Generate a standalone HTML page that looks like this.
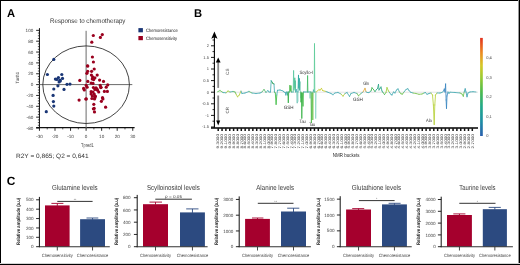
<!DOCTYPE html>
<html><head><meta charset="utf-8"><style>
html,body{margin:0;padding:0;background:#fff;}
body{width:520px;height:265px;overflow:hidden;}
svg{display:block;font-family:"Liberation Sans",sans-serif;will-change:transform;text-rendering:geometricPrecision;}
</style></head><body>
<svg width="520" height="265" viewBox="0 0 520 265">
<rect x="0" y="0" width="520" height="265" fill="#fff"/>
<rect x="0.00" y="0.00" width="520.00" height="1.00" fill="#000"/>
<rect x="0.00" y="0.00" width="1.00" height="265.00" fill="#000"/>
<rect x="519.00" y="0.00" width="1.00" height="265.00" fill="#000"/>
<rect x="518.00" y="0.00" width="1.00" height="265.00" fill="#999"/>
<rect x="0.00" y="264.00" width="520.00" height="1.00" fill="#000"/>
<rect x="0.00" y="263.00" width="520.00" height="1.00" fill="#d4d4d4"/>
<text x="7.00" y="16.80" font-size="11.2" font-weight="bold" fill="#000">A</text>
<text x="194.00" y="16.80" font-size="11.2" font-weight="bold" fill="#000">B</text>
<text x="6.80" y="184.90" font-size="11.9" font-weight="bold" fill="#000">C</text>
<text x="50.00" y="23.00" font-size="6.7" textLength="75.40" lengthAdjust="spacingAndGlyphs" fill="#333">Response to chemotherapy</text>
<rect x="138.40" y="28.10" width="4.50" height="4.20" fill="#1a3676"/>
<rect x="138.40" y="36.00" width="4.50" height="4.20" fill="#9a001e"/>
<text x="146.10" y="31.90" font-size="4.8" textLength="31.70" lengthAdjust="spacingAndGlyphs" fill="#222">Chemoresistance</text>
<text x="146.10" y="39.90" font-size="4.8" textLength="30.90" lengthAdjust="spacingAndGlyphs" fill="#222">Chemosensitivity</text>
<line x1="39.45" y1="28.15" x2="39.45" y2="128.00" stroke="#111" stroke-width="1"/>
<line x1="36.15" y1="128.00" x2="39.45" y2="128.00" stroke="#111" stroke-width="0.9"/>
<text x="33.25" y="129.65" font-size="4.6" text-anchor="end" fill="#444">-80</text>
<line x1="37.85" y1="125.29" x2="39.45" y2="125.29" stroke="#111" stroke-width="0.7"/>
<line x1="37.85" y1="122.57" x2="39.45" y2="122.57" stroke="#111" stroke-width="0.7"/>
<line x1="37.85" y1="119.86" x2="39.45" y2="119.86" stroke="#111" stroke-width="0.7"/>
<line x1="36.15" y1="117.15" x2="39.45" y2="117.15" stroke="#111" stroke-width="0.9"/>
<text x="33.25" y="118.80" font-size="4.6" text-anchor="end" fill="#444">-60</text>
<line x1="37.85" y1="114.44" x2="39.45" y2="114.44" stroke="#111" stroke-width="0.7"/>
<line x1="37.85" y1="111.72" x2="39.45" y2="111.72" stroke="#111" stroke-width="0.7"/>
<line x1="37.85" y1="109.01" x2="39.45" y2="109.01" stroke="#111" stroke-width="0.7"/>
<line x1="36.15" y1="106.30" x2="39.45" y2="106.30" stroke="#111" stroke-width="0.9"/>
<text x="33.25" y="107.95" font-size="4.6" text-anchor="end" fill="#444">-40</text>
<line x1="37.85" y1="103.59" x2="39.45" y2="103.59" stroke="#111" stroke-width="0.7"/>
<line x1="37.85" y1="100.88" x2="39.45" y2="100.88" stroke="#111" stroke-width="0.7"/>
<line x1="37.85" y1="98.16" x2="39.45" y2="98.16" stroke="#111" stroke-width="0.7"/>
<line x1="36.15" y1="95.45" x2="39.45" y2="95.45" stroke="#111" stroke-width="0.9"/>
<text x="33.25" y="97.10" font-size="4.6" text-anchor="end" fill="#444">-20</text>
<line x1="37.85" y1="92.74" x2="39.45" y2="92.74" stroke="#111" stroke-width="0.7"/>
<line x1="37.85" y1="90.02" x2="39.45" y2="90.02" stroke="#111" stroke-width="0.7"/>
<line x1="37.85" y1="87.31" x2="39.45" y2="87.31" stroke="#111" stroke-width="0.7"/>
<line x1="36.15" y1="84.60" x2="39.45" y2="84.60" stroke="#111" stroke-width="0.9"/>
<text x="33.25" y="86.25" font-size="4.6" text-anchor="end" fill="#444">0</text>
<line x1="37.85" y1="81.89" x2="39.45" y2="81.89" stroke="#111" stroke-width="0.7"/>
<line x1="37.85" y1="79.17" x2="39.45" y2="79.17" stroke="#111" stroke-width="0.7"/>
<line x1="37.85" y1="76.46" x2="39.45" y2="76.46" stroke="#111" stroke-width="0.7"/>
<line x1="36.15" y1="73.75" x2="39.45" y2="73.75" stroke="#111" stroke-width="0.9"/>
<text x="33.25" y="75.40" font-size="4.6" text-anchor="end" fill="#444">20</text>
<line x1="37.85" y1="71.04" x2="39.45" y2="71.04" stroke="#111" stroke-width="0.7"/>
<line x1="37.85" y1="68.32" x2="39.45" y2="68.32" stroke="#111" stroke-width="0.7"/>
<line x1="37.85" y1="65.61" x2="39.45" y2="65.61" stroke="#111" stroke-width="0.7"/>
<line x1="36.15" y1="62.90" x2="39.45" y2="62.90" stroke="#111" stroke-width="0.9"/>
<text x="33.25" y="64.55" font-size="4.6" text-anchor="end" fill="#444">40</text>
<line x1="37.85" y1="60.19" x2="39.45" y2="60.19" stroke="#111" stroke-width="0.7"/>
<line x1="37.85" y1="57.47" x2="39.45" y2="57.47" stroke="#111" stroke-width="0.7"/>
<line x1="37.85" y1="54.76" x2="39.45" y2="54.76" stroke="#111" stroke-width="0.7"/>
<line x1="36.15" y1="52.05" x2="39.45" y2="52.05" stroke="#111" stroke-width="0.9"/>
<text x="33.25" y="53.70" font-size="4.6" text-anchor="end" fill="#444">60</text>
<line x1="37.85" y1="49.34" x2="39.45" y2="49.34" stroke="#111" stroke-width="0.7"/>
<line x1="37.85" y1="46.62" x2="39.45" y2="46.62" stroke="#111" stroke-width="0.7"/>
<line x1="37.85" y1="43.91" x2="39.45" y2="43.91" stroke="#111" stroke-width="0.7"/>
<line x1="36.15" y1="41.20" x2="39.45" y2="41.20" stroke="#111" stroke-width="0.9"/>
<text x="33.25" y="42.85" font-size="4.6" text-anchor="end" fill="#444">80</text>
<line x1="37.85" y1="38.49" x2="39.45" y2="38.49" stroke="#111" stroke-width="0.7"/>
<line x1="37.85" y1="35.77" x2="39.45" y2="35.77" stroke="#111" stroke-width="0.7"/>
<line x1="37.85" y1="33.06" x2="39.45" y2="33.06" stroke="#111" stroke-width="0.7"/>
<line x1="36.15" y1="30.35" x2="39.45" y2="30.35" stroke="#111" stroke-width="0.9"/>
<text x="33.25" y="32.00" font-size="4.6" text-anchor="end" fill="#444">100</text>
<line x1="36.15" y1="127.60" x2="134.62" y2="127.60" stroke="#111" stroke-width="1.1"/>
<line x1="39.45" y1="127.60" x2="39.45" y2="130.80" stroke="#111" stroke-width="0.9"/>
<text x="39.45" y="138.10" font-size="4.6" text-anchor="middle" fill="#444">-30</text>
<line x1="47.23" y1="127.60" x2="47.23" y2="129.40" stroke="#111" stroke-width="0.7"/>
<line x1="55.00" y1="127.60" x2="55.00" y2="130.80" stroke="#111" stroke-width="0.9"/>
<text x="55.00" y="138.10" font-size="4.6" text-anchor="middle" fill="#444">-20</text>
<line x1="62.78" y1="127.60" x2="62.78" y2="129.40" stroke="#111" stroke-width="0.7"/>
<line x1="70.55" y1="127.60" x2="70.55" y2="130.80" stroke="#111" stroke-width="0.9"/>
<text x="70.55" y="138.10" font-size="4.6" text-anchor="middle" fill="#444">-10</text>
<line x1="78.33" y1="127.60" x2="78.33" y2="129.40" stroke="#111" stroke-width="0.7"/>
<line x1="86.10" y1="127.60" x2="86.10" y2="130.80" stroke="#111" stroke-width="0.9"/>
<text x="86.10" y="138.10" font-size="4.6" text-anchor="middle" fill="#444">0</text>
<line x1="93.88" y1="127.60" x2="93.88" y2="129.40" stroke="#111" stroke-width="0.7"/>
<line x1="101.65" y1="127.60" x2="101.65" y2="130.80" stroke="#111" stroke-width="0.9"/>
<text x="101.65" y="138.10" font-size="4.6" text-anchor="middle" fill="#444">10</text>
<line x1="109.42" y1="127.60" x2="109.42" y2="129.40" stroke="#111" stroke-width="0.7"/>
<line x1="117.20" y1="127.60" x2="117.20" y2="130.80" stroke="#111" stroke-width="0.9"/>
<text x="117.20" y="138.10" font-size="4.6" text-anchor="middle" fill="#444">20</text>
<line x1="124.97" y1="127.60" x2="124.97" y2="129.40" stroke="#111" stroke-width="0.7"/>
<line x1="132.75" y1="127.60" x2="132.75" y2="130.80" stroke="#111" stroke-width="0.9"/>
<text x="132.75" y="138.10" font-size="4.6" text-anchor="middle" fill="#444">30</text>
<text x="81.00" y="146.70" font-size="5.4" textLength="12.70" lengthAdjust="spacingAndGlyphs" fill="#444">Tpred1</text>
<text x="19.00" y="83.40" font-size="4.6" textLength="11.60" lengthAdjust="spacingAndGlyphs" transform="rotate(-90 19.00 83.40)" fill="#444">Torth1</text>
<line x1="86.10" y1="30.80" x2="86.10" y2="128.00" stroke="#6a6a6a" stroke-width="1"/>
<line x1="39.45" y1="84.60" x2="132.30" y2="84.60" stroke="#6a6a6a" stroke-width="1"/>
<ellipse cx="86.10" cy="84.7" rx="43.3" ry="38.8" fill="none" stroke="#222" stroke-width="0.85"/>
<circle cx="93.3" cy="35.5" r="1.6" fill="#9a001e"/>
<circle cx="102.3" cy="34.6" r="1.6" fill="#9a001e"/>
<circle cx="100.4" cy="37.4" r="1.6" fill="#9a001e"/>
<circle cx="91.8" cy="42.2" r="1.6" fill="#9a001e"/>
<circle cx="92.4" cy="57" r="1.6" fill="#9a001e"/>
<circle cx="93.4" cy="62" r="1.6" fill="#9a001e"/>
<circle cx="87.5" cy="65.9" r="1.6" fill="#9a001e"/>
<circle cx="87.8" cy="66" r="1.6" fill="#9a001e"/>
<circle cx="94.2" cy="69" r="1.6" fill="#9a001e"/>
<circle cx="87.7" cy="71.3" r="1.6" fill="#9a001e"/>
<circle cx="91.6" cy="71.3" r="1.6" fill="#9a001e"/>
<circle cx="86.9" cy="73.3" r="1.6" fill="#9a001e"/>
<circle cx="91.4" cy="75.1" r="1.6" fill="#9a001e"/>
<circle cx="97.2" cy="75.1" r="1.6" fill="#9a001e"/>
<circle cx="92.6" cy="76.9" r="1.6" fill="#9a001e"/>
<circle cx="94.9" cy="77.8" r="1.6" fill="#9a001e"/>
<circle cx="92.3" cy="78.9" r="1.6" fill="#9a001e"/>
<circle cx="93.7" cy="79.6" r="1.6" fill="#9a001e"/>
<circle cx="99.6" cy="80.1" r="1.6" fill="#9a001e"/>
<circle cx="103.5" cy="81.4" r="1.6" fill="#9a001e"/>
<circle cx="79.8" cy="80.4" r="1.6" fill="#9a001e"/>
<circle cx="87.8" cy="81.4" r="1.6" fill="#9a001e"/>
<circle cx="91.1" cy="83" r="1.6" fill="#9a001e"/>
<circle cx="93" cy="83.4" r="1.6" fill="#9a001e"/>
<circle cx="86.2" cy="85.4" r="1.6" fill="#9a001e"/>
<circle cx="100.2" cy="85.4" r="1.6" fill="#9a001e"/>
<circle cx="107.7" cy="84.9" r="1.6" fill="#9a001e"/>
<circle cx="87.1" cy="87.2" r="1.6" fill="#9a001e"/>
<circle cx="83.6" cy="88.4" r="1.6" fill="#9a001e"/>
<circle cx="93.4" cy="87.5" r="1.6" fill="#9a001e"/>
<circle cx="96" cy="87.9" r="1.6" fill="#9a001e"/>
<circle cx="100.8" cy="87.6" r="1.6" fill="#9a001e"/>
<circle cx="106.2" cy="87.2" r="1.6" fill="#9a001e"/>
<circle cx="84.3" cy="89.9" r="1.6" fill="#9a001e"/>
<circle cx="94.9" cy="89.4" r="1.6" fill="#9a001e"/>
<circle cx="97.5" cy="90.2" r="1.6" fill="#9a001e"/>
<circle cx="91.1" cy="91.7" r="1.6" fill="#9a001e"/>
<circle cx="93" cy="92" r="1.6" fill="#9a001e"/>
<circle cx="98.7" cy="92" r="1.6" fill="#9a001e"/>
<circle cx="104.4" cy="91.4" r="1.6" fill="#9a001e"/>
<circle cx="107.4" cy="91.4" r="1.6" fill="#9a001e"/>
<circle cx="91.1" cy="94" r="1.6" fill="#9a001e"/>
<circle cx="94.2" cy="94" r="1.6" fill="#9a001e"/>
<circle cx="92.3" cy="95.9" r="1.6" fill="#9a001e"/>
<circle cx="94.9" cy="96.2" r="1.6" fill="#9a001e"/>
<circle cx="102.5" cy="97.7" r="1.6" fill="#9a001e"/>
<circle cx="79.1" cy="100.1" r="1.6" fill="#9a001e"/>
<circle cx="86.3" cy="98.9" r="1.6" fill="#9a001e"/>
<circle cx="91.9" cy="98.5" r="1.6" fill="#9a001e"/>
<circle cx="94.5" cy="98.9" r="1.6" fill="#9a001e"/>
<circle cx="96.9" cy="88.8" r="1.6" fill="#9a001e"/>
<circle cx="101" cy="87.3" r="1.6" fill="#9a001e"/>
<circle cx="95.4" cy="96.3" r="1.6" fill="#9a001e"/>
<circle cx="102.9" cy="98.9" r="1.6" fill="#9a001e"/>
<circle cx="101.4" cy="101.3" r="1.6" fill="#9a001e"/>
<circle cx="93.8" cy="104.3" r="1.6" fill="#9a001e"/>
<circle cx="94.2" cy="108.4" r="1.6" fill="#9a001e"/>
<circle cx="93.4" cy="108.8" r="1.6" fill="#9a001e"/>
<circle cx="105.6" cy="107.2" r="1.6" fill="#9a001e"/>
<circle cx="94.5" cy="111.9" r="1.6" fill="#9a001e"/>
<circle cx="94.9" cy="97.8" r="1.6" fill="#9a001e"/>
<circle cx="85.8" cy="99" r="1.6" fill="#9a001e"/>
<circle cx="53.8" cy="59.4" r="1.6" fill="#1a3676"/>
<circle cx="47.4" cy="74.5" r="1.6" fill="#1a3676"/>
<circle cx="61.8" cy="74.5" r="1.6" fill="#1a3676"/>
<circle cx="58.4" cy="77.5" r="1.6" fill="#1a3676"/>
<circle cx="55.4" cy="79.1" r="1.6" fill="#1a3676"/>
<circle cx="56.9" cy="79.4" r="1.6" fill="#1a3676"/>
<circle cx="62.5" cy="78.4" r="1.6" fill="#1a3676"/>
<circle cx="59.9" cy="80.2" r="1.6" fill="#1a3676"/>
<circle cx="59.1" cy="82" r="1.6" fill="#1a3676"/>
<circle cx="60.3" cy="80.9" r="1.6" fill="#1a3676"/>
<circle cx="67" cy="84.3" r="1.6" fill="#1a3676"/>
<circle cx="70" cy="84.1" r="1.6" fill="#1a3676"/>
<circle cx="57.9" cy="85.8" r="1.6" fill="#1a3676"/>
<circle cx="53.8" cy="89.0" r="1.6" fill="#1a3676"/>
<circle cx="64" cy="89.4" r="1.6" fill="#1a3676"/>
<circle cx="53.1" cy="95.4" r="1.6" fill="#1a3676"/>
<circle cx="53.4" cy="101.6" r="1.6" fill="#1a3676"/>
<circle cx="53.8" cy="106.1" r="1.6" fill="#1a3676"/>
<circle cx="46.3" cy="111.7" r="1.6" fill="#1a3676"/>
<text x="16.00" y="157.70" font-size="6.3" textLength="72.60" lengthAdjust="spacingAndGlyphs" fill="#333">R2Y = 0,865; Q2 = 0,641</text>
<line x1="214.40" y1="36.00" x2="214.40" y2="127.80" stroke="#000" stroke-width="1.1"/>
<path d="M214.40 31.6 L217.50 38.8 L214.40 37.2 L211.30 38.8 Z" fill="#000"/>
<line x1="211.00" y1="127.00" x2="214.40" y2="127.00" stroke="#000" stroke-width="0.9"/>
<text x="208.90" y="128.40" font-size="4.0" text-anchor="end" fill="#444">-1.5</text>
<line x1="212.50" y1="121.20" x2="214.40" y2="121.20" stroke="#000" stroke-width="0.8"/>
<line x1="211.00" y1="115.40" x2="214.40" y2="115.40" stroke="#000" stroke-width="0.9"/>
<text x="208.90" y="116.80" font-size="4.0" text-anchor="end" fill="#444">-1</text>
<line x1="212.50" y1="109.60" x2="214.40" y2="109.60" stroke="#000" stroke-width="0.8"/>
<line x1="211.00" y1="103.80" x2="214.40" y2="103.80" stroke="#000" stroke-width="0.9"/>
<text x="208.90" y="105.20" font-size="4.0" text-anchor="end" fill="#444">-0.5</text>
<line x1="212.50" y1="98.00" x2="214.40" y2="98.00" stroke="#000" stroke-width="0.8"/>
<line x1="211.00" y1="92.20" x2="214.40" y2="92.20" stroke="#000" stroke-width="0.9"/>
<text x="208.90" y="93.60" font-size="4.0" text-anchor="end" fill="#444">0</text>
<line x1="212.50" y1="86.40" x2="214.40" y2="86.40" stroke="#000" stroke-width="0.8"/>
<line x1="211.00" y1="80.60" x2="214.40" y2="80.60" stroke="#000" stroke-width="0.9"/>
<text x="208.90" y="82.00" font-size="4.0" text-anchor="end" fill="#444">0.5</text>
<line x1="212.50" y1="74.80" x2="214.40" y2="74.80" stroke="#000" stroke-width="0.8"/>
<line x1="211.00" y1="69.00" x2="214.40" y2="69.00" stroke="#000" stroke-width="0.9"/>
<text x="208.90" y="70.40" font-size="4.0" text-anchor="end" fill="#444">1</text>
<line x1="212.50" y1="63.20" x2="214.40" y2="63.20" stroke="#000" stroke-width="0.8"/>
<line x1="211.00" y1="57.40" x2="214.40" y2="57.40" stroke="#000" stroke-width="0.9"/>
<text x="208.90" y="58.80" font-size="4.0" text-anchor="end" fill="#444">1.5</text>
<line x1="212.50" y1="51.60" x2="214.40" y2="51.60" stroke="#000" stroke-width="0.8"/>
<line x1="211.00" y1="45.80" x2="214.40" y2="45.80" stroke="#000" stroke-width="0.9"/>
<text x="208.90" y="47.20" font-size="4.0" text-anchor="end" fill="#444">2</text>
<line x1="212.50" y1="40.00" x2="214.40" y2="40.00" stroke="#000" stroke-width="0.8"/>
<line x1="218.20" y1="87.90" x2="218.20" y2="61.50" stroke="#888" stroke-width="1.8"/>
<path d="M218.2 57.4 L220.6 62.6 L215.8 62.6 Z" fill="#000"/>
<line x1="218.20" y1="95.50" x2="218.20" y2="121.50" stroke="#888" stroke-width="1.8"/>
<path d="M218.2 125.4 L220.2 120.6 L216.2 120.6 Z" fill="#000"/>
<text x="229.30" y="74.90" font-size="4.6" textLength="6.40" lengthAdjust="spacingAndGlyphs" transform="rotate(-90 229.30 74.90)" fill="#4a4a4a">CS</text>
<text x="229.30" y="113.40" font-size="4.6" textLength="6.40" lengthAdjust="spacingAndGlyphs" transform="rotate(-90 229.30 113.40)" fill="#4a4a4a">CR</text>
<line x1="217.60" y1="92.20" x2="478.00" y2="92.20" stroke="#ddd" stroke-width="0.8"/>
<line x1="211.00" y1="127.90" x2="478.00" y2="127.90" stroke="#000" stroke-width="1.5"/>
<rect x="217.45" y="128.2" width="1.5" height="2.8" fill="#111"/>
<rect x="221.30" y="128.2" width="1.5" height="2.8" fill="#111"/>
<rect x="225.15" y="128.2" width="1.5" height="2.8" fill="#111"/>
<rect x="229.00" y="128.2" width="1.5" height="2.8" fill="#111"/>
<rect x="232.85" y="128.2" width="1.5" height="2.8" fill="#111"/>
<rect x="236.70" y="128.2" width="1.5" height="2.8" fill="#111"/>
<rect x="240.55" y="128.2" width="1.5" height="2.8" fill="#111"/>
<rect x="244.40" y="128.2" width="1.5" height="2.8" fill="#111"/>
<rect x="248.25" y="128.2" width="1.5" height="2.8" fill="#111"/>
<rect x="252.10" y="128.2" width="1.5" height="2.8" fill="#111"/>
<rect x="255.95" y="128.2" width="1.5" height="2.8" fill="#111"/>
<rect x="259.80" y="128.2" width="1.5" height="2.8" fill="#111"/>
<rect x="263.65" y="128.2" width="1.5" height="2.8" fill="#111"/>
<rect x="267.50" y="128.2" width="1.5" height="2.8" fill="#111"/>
<rect x="271.35" y="128.2" width="1.5" height="2.8" fill="#111"/>
<rect x="275.20" y="128.2" width="1.5" height="2.8" fill="#111"/>
<rect x="279.05" y="128.2" width="1.5" height="2.8" fill="#111"/>
<rect x="282.90" y="128.2" width="1.5" height="2.8" fill="#111"/>
<rect x="286.75" y="128.2" width="1.5" height="2.8" fill="#111"/>
<rect x="290.60" y="128.2" width="1.5" height="2.8" fill="#111"/>
<rect x="294.45" y="128.2" width="1.5" height="2.8" fill="#111"/>
<rect x="298.30" y="128.2" width="1.5" height="2.8" fill="#111"/>
<rect x="302.15" y="128.2" width="1.5" height="2.8" fill="#111"/>
<rect x="306.00" y="128.2" width="1.5" height="2.8" fill="#111"/>
<rect x="309.85" y="128.2" width="1.5" height="2.8" fill="#111"/>
<rect x="313.70" y="128.2" width="1.5" height="2.8" fill="#111"/>
<rect x="317.55" y="128.2" width="1.5" height="2.8" fill="#111"/>
<rect x="321.40" y="128.2" width="1.5" height="2.8" fill="#111"/>
<rect x="325.25" y="128.2" width="1.5" height="2.8" fill="#111"/>
<rect x="329.10" y="128.2" width="1.5" height="2.8" fill="#111"/>
<rect x="332.95" y="128.2" width="1.5" height="2.8" fill="#111"/>
<rect x="336.80" y="128.2" width="1.5" height="2.8" fill="#111"/>
<rect x="340.65" y="128.2" width="1.5" height="2.8" fill="#111"/>
<rect x="344.50" y="128.2" width="1.5" height="2.8" fill="#111"/>
<rect x="348.35" y="128.2" width="1.5" height="2.8" fill="#111"/>
<rect x="352.20" y="128.2" width="1.5" height="2.8" fill="#111"/>
<rect x="356.05" y="128.2" width="1.5" height="2.8" fill="#111"/>
<rect x="359.90" y="128.2" width="1.5" height="2.8" fill="#111"/>
<rect x="363.75" y="128.2" width="1.5" height="2.8" fill="#111"/>
<rect x="367.60" y="128.2" width="1.5" height="2.8" fill="#111"/>
<rect x="371.45" y="128.2" width="1.5" height="2.8" fill="#111"/>
<rect x="375.30" y="128.2" width="1.5" height="2.8" fill="#111"/>
<rect x="379.15" y="128.2" width="1.5" height="2.8" fill="#111"/>
<rect x="383.00" y="128.2" width="1.5" height="2.8" fill="#111"/>
<rect x="386.85" y="128.2" width="1.5" height="2.8" fill="#111"/>
<rect x="390.70" y="128.2" width="1.5" height="2.8" fill="#111"/>
<rect x="394.55" y="128.2" width="1.5" height="2.8" fill="#111"/>
<rect x="398.40" y="128.2" width="1.5" height="2.8" fill="#111"/>
<rect x="402.25" y="128.2" width="1.5" height="2.8" fill="#111"/>
<rect x="406.10" y="128.2" width="1.5" height="2.8" fill="#111"/>
<rect x="409.95" y="128.2" width="1.5" height="2.8" fill="#111"/>
<rect x="413.80" y="128.2" width="1.5" height="2.8" fill="#111"/>
<rect x="417.65" y="128.2" width="1.5" height="2.8" fill="#111"/>
<rect x="421.50" y="128.2" width="1.5" height="2.8" fill="#111"/>
<rect x="425.35" y="128.2" width="1.5" height="2.8" fill="#111"/>
<rect x="429.20" y="128.2" width="1.5" height="2.8" fill="#111"/>
<rect x="433.05" y="128.2" width="1.5" height="2.8" fill="#111"/>
<rect x="436.90" y="128.2" width="1.5" height="2.8" fill="#111"/>
<rect x="440.75" y="128.2" width="1.5" height="2.8" fill="#111"/>
<rect x="444.60" y="128.2" width="1.5" height="2.8" fill="#111"/>
<rect x="448.45" y="128.2" width="1.5" height="2.8" fill="#111"/>
<rect x="452.30" y="128.2" width="1.5" height="2.8" fill="#111"/>
<rect x="456.15" y="128.2" width="1.5" height="2.8" fill="#111"/>
<rect x="460.00" y="128.2" width="1.5" height="2.8" fill="#111"/>
<rect x="463.85" y="128.2" width="1.5" height="2.8" fill="#111"/>
<rect x="467.70" y="128.2" width="1.5" height="2.8" fill="#111"/>
<rect x="471.55" y="128.2" width="1.5" height="2.8" fill="#111"/>
<text x="219.50" y="148.4" font-size="3.7" fill="#3a3a3a" transform="rotate(-90 219.50 148.4)" textLength="14.4" lengthAdjust="spacingAndGlyphs">9.3000</text>
<text x="223.35" y="148.4" font-size="3.7" fill="#3a3a3a" transform="rotate(-90 223.35 148.4)" textLength="14.4" lengthAdjust="spacingAndGlyphs">9.2000</text>
<text x="227.20" y="148.4" font-size="3.7" fill="#3a3a3a" transform="rotate(-90 227.20 148.4)" textLength="14.4" lengthAdjust="spacingAndGlyphs">9.1000</text>
<text x="231.05" y="148.4" font-size="3.7" fill="#3a3a3a" transform="rotate(-90 231.05 148.4)" textLength="14.4" lengthAdjust="spacingAndGlyphs">9.0000</text>
<text x="234.90" y="148.4" font-size="3.7" fill="#3a3a3a" transform="rotate(-90 234.90 148.4)" textLength="14.4" lengthAdjust="spacingAndGlyphs">8.9000</text>
<text x="238.75" y="148.4" font-size="3.7" fill="#3a3a3a" transform="rotate(-90 238.75 148.4)" textLength="14.4" lengthAdjust="spacingAndGlyphs">8.8000</text>
<text x="242.60" y="148.4" font-size="3.7" fill="#3a3a3a" transform="rotate(-90 242.60 148.4)" textLength="14.4" lengthAdjust="spacingAndGlyphs">8.7000</text>
<text x="246.45" y="148.4" font-size="3.7" fill="#3a3a3a" transform="rotate(-90 246.45 148.4)" textLength="14.4" lengthAdjust="spacingAndGlyphs">8.6000</text>
<text x="250.30" y="148.4" font-size="3.7" fill="#3a3a3a" transform="rotate(-90 250.30 148.4)" textLength="14.4" lengthAdjust="spacingAndGlyphs">8.5000</text>
<text x="254.15" y="148.4" font-size="3.7" fill="#3a3a3a" transform="rotate(-90 254.15 148.4)" textLength="14.4" lengthAdjust="spacingAndGlyphs">8.4000</text>
<text x="258.00" y="148.4" font-size="3.7" fill="#3a3a3a" transform="rotate(-90 258.00 148.4)" textLength="14.4" lengthAdjust="spacingAndGlyphs">8.3000</text>
<text x="261.85" y="148.4" font-size="3.7" fill="#3a3a3a" transform="rotate(-90 261.85 148.4)" textLength="14.4" lengthAdjust="spacingAndGlyphs">8.2000</text>
<text x="265.70" y="148.4" font-size="3.7" fill="#3a3a3a" transform="rotate(-90 265.70 148.4)" textLength="14.4" lengthAdjust="spacingAndGlyphs">8.1000</text>
<text x="269.55" y="148.4" font-size="3.7" fill="#3a3a3a" transform="rotate(-90 269.55 148.4)" textLength="14.4" lengthAdjust="spacingAndGlyphs">8.0000</text>
<text x="273.40" y="148.4" font-size="3.7" fill="#3a3a3a" transform="rotate(-90 273.40 148.4)" textLength="14.4" lengthAdjust="spacingAndGlyphs">7.9000</text>
<text x="277.25" y="148.4" font-size="3.7" fill="#3a3a3a" transform="rotate(-90 277.25 148.4)" textLength="14.4" lengthAdjust="spacingAndGlyphs">7.8000</text>
<text x="281.10" y="148.4" font-size="3.7" fill="#3a3a3a" transform="rotate(-90 281.10 148.4)" textLength="14.4" lengthAdjust="spacingAndGlyphs">7.7000</text>
<text x="284.95" y="148.4" font-size="3.7" fill="#3a3a3a" transform="rotate(-90 284.95 148.4)" textLength="14.4" lengthAdjust="spacingAndGlyphs">7.6000</text>
<text x="288.80" y="148.4" font-size="3.7" fill="#3a3a3a" transform="rotate(-90 288.80 148.4)" textLength="14.4" lengthAdjust="spacingAndGlyphs">7.5000</text>
<text x="292.65" y="148.4" font-size="3.7" fill="#3a3a3a" transform="rotate(-90 292.65 148.4)" textLength="14.4" lengthAdjust="spacingAndGlyphs">7.4000</text>
<text x="296.50" y="148.4" font-size="3.7" fill="#3a3a3a" transform="rotate(-90 296.50 148.4)" textLength="14.4" lengthAdjust="spacingAndGlyphs">7.3000</text>
<text x="300.35" y="148.4" font-size="3.7" fill="#3a3a3a" transform="rotate(-90 300.35 148.4)" textLength="14.4" lengthAdjust="spacingAndGlyphs">7.2000</text>
<text x="304.20" y="148.4" font-size="3.7" fill="#3a3a3a" transform="rotate(-90 304.20 148.4)" textLength="14.4" lengthAdjust="spacingAndGlyphs">7.1000</text>
<text x="308.05" y="148.4" font-size="3.7" fill="#3a3a3a" transform="rotate(-90 308.05 148.4)" textLength="14.4" lengthAdjust="spacingAndGlyphs">7.0000</text>
<text x="311.90" y="148.4" font-size="3.7" fill="#3a3a3a" transform="rotate(-90 311.90 148.4)" textLength="14.4" lengthAdjust="spacingAndGlyphs">6.9000</text>
<text x="315.75" y="148.4" font-size="3.7" fill="#3a3a3a" transform="rotate(-90 315.75 148.4)" textLength="14.4" lengthAdjust="spacingAndGlyphs">6.8000</text>
<text x="319.60" y="148.4" font-size="3.7" fill="#3a3a3a" transform="rotate(-90 319.60 148.4)" textLength="14.4" lengthAdjust="spacingAndGlyphs">6.7000</text>
<text x="323.45" y="148.4" font-size="3.7" fill="#3a3a3a" transform="rotate(-90 323.45 148.4)" textLength="14.4" lengthAdjust="spacingAndGlyphs">6.6000</text>
<text x="327.30" y="148.4" font-size="3.7" fill="#3a3a3a" transform="rotate(-90 327.30 148.4)" textLength="14.4" lengthAdjust="spacingAndGlyphs">6.5000</text>
<text x="331.15" y="148.4" font-size="3.7" fill="#3a3a3a" transform="rotate(-90 331.15 148.4)" textLength="14.4" lengthAdjust="spacingAndGlyphs">6.4000</text>
<text x="335.00" y="148.4" font-size="3.7" fill="#3a3a3a" transform="rotate(-90 335.00 148.4)" textLength="14.4" lengthAdjust="spacingAndGlyphs">6.3000</text>
<text x="338.85" y="148.4" font-size="3.7" fill="#3a3a3a" transform="rotate(-90 338.85 148.4)" textLength="14.4" lengthAdjust="spacingAndGlyphs">6.2000</text>
<text x="342.70" y="148.4" font-size="3.7" fill="#3a3a3a" transform="rotate(-90 342.70 148.4)" textLength="14.4" lengthAdjust="spacingAndGlyphs">6.1000</text>
<text x="346.55" y="148.4" font-size="3.7" fill="#3a3a3a" transform="rotate(-90 346.55 148.4)" textLength="14.4" lengthAdjust="spacingAndGlyphs">6.0000</text>
<text x="350.40" y="148.4" font-size="3.7" fill="#3a3a3a" transform="rotate(-90 350.40 148.4)" textLength="14.4" lengthAdjust="spacingAndGlyphs">5.9000</text>
<text x="354.25" y="148.4" font-size="3.7" fill="#3a3a3a" transform="rotate(-90 354.25 148.4)" textLength="14.4" lengthAdjust="spacingAndGlyphs">5.8000</text>
<text x="358.10" y="148.4" font-size="3.7" fill="#3a3a3a" transform="rotate(-90 358.10 148.4)" textLength="14.4" lengthAdjust="spacingAndGlyphs">5.7000</text>
<text x="361.95" y="148.4" font-size="3.7" fill="#3a3a3a" transform="rotate(-90 361.95 148.4)" textLength="14.4" lengthAdjust="spacingAndGlyphs">5.6000</text>
<text x="365.80" y="148.4" font-size="3.7" fill="#3a3a3a" transform="rotate(-90 365.80 148.4)" textLength="14.4" lengthAdjust="spacingAndGlyphs">5.5000</text>
<text x="369.65" y="148.4" font-size="3.7" fill="#3a3a3a" transform="rotate(-90 369.65 148.4)" textLength="14.4" lengthAdjust="spacingAndGlyphs">5.4000</text>
<text x="373.50" y="148.4" font-size="3.7" fill="#3a3a3a" transform="rotate(-90 373.50 148.4)" textLength="14.4" lengthAdjust="spacingAndGlyphs">5.3000</text>
<text x="377.35" y="148.4" font-size="3.7" fill="#3a3a3a" transform="rotate(-90 377.35 148.4)" textLength="14.4" lengthAdjust="spacingAndGlyphs">5.2000</text>
<text x="381.20" y="148.4" font-size="3.7" fill="#3a3a3a" transform="rotate(-90 381.20 148.4)" textLength="14.4" lengthAdjust="spacingAndGlyphs">5.1000</text>
<text x="385.05" y="148.4" font-size="3.7" fill="#3a3a3a" transform="rotate(-90 385.05 148.4)" textLength="14.4" lengthAdjust="spacingAndGlyphs">5.0000</text>
<text x="388.90" y="148.4" font-size="3.7" fill="#3a3a3a" transform="rotate(-90 388.90 148.4)" textLength="14.4" lengthAdjust="spacingAndGlyphs">4.9000</text>
<text x="392.75" y="148.4" font-size="3.7" fill="#3a3a3a" transform="rotate(-90 392.75 148.4)" textLength="14.4" lengthAdjust="spacingAndGlyphs">4.8000</text>
<text x="396.60" y="148.4" font-size="3.7" fill="#3a3a3a" transform="rotate(-90 396.60 148.4)" textLength="14.4" lengthAdjust="spacingAndGlyphs">4.7000</text>
<text x="400.45" y="148.4" font-size="3.7" fill="#3a3a3a" transform="rotate(-90 400.45 148.4)" textLength="14.4" lengthAdjust="spacingAndGlyphs">4.6000</text>
<text x="404.30" y="148.4" font-size="3.7" fill="#3a3a3a" transform="rotate(-90 404.30 148.4)" textLength="14.4" lengthAdjust="spacingAndGlyphs">4.5000</text>
<text x="408.15" y="148.4" font-size="3.7" fill="#3a3a3a" transform="rotate(-90 408.15 148.4)" textLength="14.4" lengthAdjust="spacingAndGlyphs">4.4000</text>
<text x="412.00" y="148.4" font-size="3.7" fill="#3a3a3a" transform="rotate(-90 412.00 148.4)" textLength="14.4" lengthAdjust="spacingAndGlyphs">4.3000</text>
<text x="415.85" y="148.4" font-size="3.7" fill="#3a3a3a" transform="rotate(-90 415.85 148.4)" textLength="14.4" lengthAdjust="spacingAndGlyphs">4.2000</text>
<text x="419.70" y="148.4" font-size="3.7" fill="#3a3a3a" transform="rotate(-90 419.70 148.4)" textLength="14.4" lengthAdjust="spacingAndGlyphs">4.1000</text>
<text x="423.55" y="148.4" font-size="3.7" fill="#3a3a3a" transform="rotate(-90 423.55 148.4)" textLength="14.4" lengthAdjust="spacingAndGlyphs">4.0000</text>
<text x="427.40" y="148.4" font-size="3.7" fill="#3a3a3a" transform="rotate(-90 427.40 148.4)" textLength="14.4" lengthAdjust="spacingAndGlyphs">3.9000</text>
<text x="431.25" y="148.4" font-size="3.7" fill="#3a3a3a" transform="rotate(-90 431.25 148.4)" textLength="14.4" lengthAdjust="spacingAndGlyphs">3.8000</text>
<text x="435.10" y="148.4" font-size="3.7" fill="#3a3a3a" transform="rotate(-90 435.10 148.4)" textLength="14.4" lengthAdjust="spacingAndGlyphs">3.7000</text>
<text x="438.95" y="148.4" font-size="3.7" fill="#3a3a3a" transform="rotate(-90 438.95 148.4)" textLength="14.4" lengthAdjust="spacingAndGlyphs">3.6000</text>
<text x="442.80" y="148.4" font-size="3.7" fill="#3a3a3a" transform="rotate(-90 442.80 148.4)" textLength="14.4" lengthAdjust="spacingAndGlyphs">3.5000</text>
<text x="446.65" y="148.4" font-size="3.7" fill="#3a3a3a" transform="rotate(-90 446.65 148.4)" textLength="14.4" lengthAdjust="spacingAndGlyphs">3.4000</text>
<text x="450.50" y="148.4" font-size="3.7" fill="#3a3a3a" transform="rotate(-90 450.50 148.4)" textLength="14.4" lengthAdjust="spacingAndGlyphs">3.3000</text>
<text x="454.35" y="148.4" font-size="3.7" fill="#3a3a3a" transform="rotate(-90 454.35 148.4)" textLength="14.4" lengthAdjust="spacingAndGlyphs">3.2000</text>
<text x="458.20" y="148.4" font-size="3.7" fill="#3a3a3a" transform="rotate(-90 458.20 148.4)" textLength="14.4" lengthAdjust="spacingAndGlyphs">3.1000</text>
<text x="462.05" y="148.4" font-size="3.7" fill="#3a3a3a" transform="rotate(-90 462.05 148.4)" textLength="14.4" lengthAdjust="spacingAndGlyphs">3.0000</text>
<text x="465.90" y="148.4" font-size="3.7" fill="#3a3a3a" transform="rotate(-90 465.90 148.4)" textLength="14.4" lengthAdjust="spacingAndGlyphs">2.9000</text>
<text x="469.75" y="148.4" font-size="3.7" fill="#3a3a3a" transform="rotate(-90 469.75 148.4)" textLength="14.4" lengthAdjust="spacingAndGlyphs">2.8000</text>
<text x="473.60" y="148.4" font-size="3.7" fill="#3a3a3a" transform="rotate(-90 473.60 148.4)" textLength="14.4" lengthAdjust="spacingAndGlyphs">2.7000</text>
<text x="332.80" y="157.30" font-size="5.7" textLength="26.80" lengthAdjust="spacingAndGlyphs" fill="#1e1e1e">NMR buckets</text>
<defs><linearGradient id="cb" x1="0" y1="1" x2="0" y2="0"><stop offset="0" stop-color="#2a5fae"/><stop offset="0.15" stop-color="#1e8fa5"/><stop offset="0.3" stop-color="#22a98a"/><stop offset="0.45" stop-color="#4dbb4d"/><stop offset="0.6" stop-color="#9ccb32"/><stop offset="0.72" stop-color="#d6c828"/><stop offset="0.85" stop-color="#ec8a22"/><stop offset="1" stop-color="#e2311f"/></linearGradient></defs>
<rect x="480.10" y="37.90" width="2.70" height="98.10" fill="url(#cb)"/>
<text x="486.20" y="59.40" font-size="4.0" fill="#444">0,4</text>
<text x="486.20" y="78.80" font-size="4.0" fill="#444">0,3</text>
<text x="486.20" y="98.40" font-size="4.0" fill="#444">0,2</text>
<text x="486.20" y="117.90" font-size="4.0" fill="#444">0,1</text>
<text x="486.20" y="137.40" font-size="4.0" fill="#444">0</text>
<line x1="217.6" y1="92" x2="218" y2="91.5" stroke="#62c05a" stroke-width="0.85" stroke-linecap="round"/>
<line x1="218" y1="91.5" x2="220" y2="90.6" stroke="#62c05a" stroke-width="0.85" stroke-linecap="round"/>
<line x1="220" y1="90.6" x2="223" y2="92.5" stroke="#62c05a" stroke-width="0.85" stroke-linecap="round"/>
<line x1="223" y1="92.5" x2="226" y2="92.8" stroke="#47abb4" stroke-width="0.85" stroke-linecap="round"/>
<line x1="226" y1="92.8" x2="228" y2="91" stroke="#9fcf3c" stroke-width="0.85" stroke-linecap="round"/>
<line x1="228" y1="91" x2="230" y2="92" stroke="#9fcf3c" stroke-width="0.85" stroke-linecap="round"/>
<line x1="230" y1="92" x2="233" y2="91.5" stroke="#47abb4" stroke-width="0.85" stroke-linecap="round"/>
<line x1="233" y1="91.5" x2="235" y2="92" stroke="#5cbc5c" stroke-width="0.85" stroke-linecap="round"/>
<line x1="235" y1="92" x2="236" y2="94" stroke="#5cbc5c" stroke-width="0.85" stroke-linecap="round"/>
<line x1="236" y1="94" x2="237.5" y2="96.8" stroke="#b5cf3a" stroke-width="0.85" stroke-linecap="round"/>
<line x1="237.5" y1="96.8" x2="239" y2="95.5" stroke="#b5cf3a" stroke-width="0.85" stroke-linecap="round"/>
<line x1="239" y1="95.5" x2="241" y2="91.1" stroke="#b5cf3a" stroke-width="0.85" stroke-linecap="round"/>
<line x1="241" y1="91.1" x2="242" y2="93.5" stroke="#47abb4" stroke-width="0.85" stroke-linecap="round"/>
<line x1="242" y1="93.5" x2="245" y2="93" stroke="#47abb4" stroke-width="0.85" stroke-linecap="round"/>
<line x1="245" y1="93" x2="249" y2="91.5" stroke="#47abb4" stroke-width="0.85" stroke-linecap="round"/>
<line x1="249" y1="91.5" x2="252" y2="93" stroke="#5cbc6c" stroke-width="0.85" stroke-linecap="round"/>
<line x1="252" y1="93" x2="256" y2="93.5" stroke="#47abb4" stroke-width="0.85" stroke-linecap="round"/>
<line x1="256" y1="93.5" x2="260" y2="93" stroke="#47abb4" stroke-width="0.85" stroke-linecap="round"/>
<line x1="260" y1="93" x2="262" y2="92" stroke="#47abb4" stroke-width="0.85" stroke-linecap="round"/>
<line x1="262" y1="92" x2="264" y2="89.4" stroke="#5cbc6c" stroke-width="0.85" stroke-linecap="round"/>
<line x1="264" y1="89.4" x2="266" y2="92.5" stroke="#5cbc6c" stroke-width="0.85" stroke-linecap="round"/>
<line x1="266" y1="92.5" x2="267.8" y2="90.5" stroke="#47abb4" stroke-width="0.85" stroke-linecap="round"/>
<line x1="267.8" y1="90.5" x2="269" y2="92" stroke="#47abb4" stroke-width="0.85" stroke-linecap="round"/>
<line x1="269" y1="92" x2="270.5" y2="92" stroke="#47abb4" stroke-width="0.85" stroke-linecap="round"/>
<line x1="270.5" y1="92" x2="271.2" y2="80.7" stroke="#47abb4" stroke-width="0.85" stroke-linecap="round"/>
<line x1="271.2" y1="80.7" x2="272" y2="82" stroke="#2fae98" stroke-width="0.85" stroke-linecap="round"/>
<line x1="272" y1="82" x2="272.9" y2="83.5" stroke="#1e9a40" stroke-width="0.85" stroke-linecap="round"/>
<line x1="272.9" y1="83.5" x2="274" y2="84" stroke="#1e9a40" stroke-width="0.85" stroke-linecap="round"/>
<line x1="274" y1="84" x2="274.5" y2="92" stroke="#47abb4" stroke-width="0.85" stroke-linecap="round"/>
<line x1="274.5" y1="92" x2="275.3" y2="93" stroke="#3ab54a" stroke-width="0.85" stroke-linecap="round"/>
<line x1="275.3" y1="93" x2="276.1" y2="104.4" stroke="#40bd45" stroke-width="0.85" stroke-linecap="round"/>
<line x1="276.1" y1="104.4" x2="276.8" y2="95" stroke="#40bd45" stroke-width="0.85" stroke-linecap="round"/>
<line x1="276.8" y1="95" x2="277.5" y2="90.3" stroke="#47abb4" stroke-width="0.85" stroke-linecap="round"/>
<line x1="277.5" y1="90.3" x2="280" y2="90" stroke="#47abb4" stroke-width="0.85" stroke-linecap="round"/>
<line x1="280" y1="90" x2="283" y2="91" stroke="#47abb4" stroke-width="0.85" stroke-linecap="round"/>
<line x1="283" y1="91" x2="284" y2="92" stroke="#47abb4" stroke-width="0.85" stroke-linecap="round"/>
<line x1="284" y1="92" x2="285.3" y2="92.5" stroke="#47abb4" stroke-width="0.85" stroke-linecap="round"/>
<line x1="285.3" y1="92.5" x2="285.8" y2="95" stroke="#47abb4" stroke-width="0.85" stroke-linecap="round"/>
<line x1="285.8" y1="95" x2="286.5" y2="92" stroke="#47abb4" stroke-width="0.85" stroke-linecap="round"/>
<line x1="286.5" y1="92" x2="287.4" y2="95" stroke="#47abb4" stroke-width="0.85" stroke-linecap="round"/>
<line x1="287.4" y1="95" x2="287.9" y2="92" stroke="#47abb4" stroke-width="0.85" stroke-linecap="round"/>
<line x1="287.9" y1="92" x2="288.3" y2="102.5" stroke="#35ad48" stroke-width="0.85" stroke-linecap="round"/>
<line x1="288.3" y1="102.5" x2="288.7" y2="92" stroke="#35ad48" stroke-width="0.85" stroke-linecap="round"/>
<line x1="288.7" y1="92" x2="289.6" y2="92" stroke="#47abb4" stroke-width="0.85" stroke-linecap="round"/>
<line x1="289.6" y1="92" x2="289.9" y2="85.5" stroke="#4cbc4c" stroke-width="0.85" stroke-linecap="round"/>
<line x1="289.9" y1="85.5" x2="290.3" y2="91" stroke="#4cbc4c" stroke-width="0.85" stroke-linecap="round"/>
<line x1="290.3" y1="91" x2="291" y2="86" stroke="#4cbc4c" stroke-width="0.85" stroke-linecap="round"/>
<line x1="291" y1="86" x2="291.4" y2="92" stroke="#4cbc4c" stroke-width="0.85" stroke-linecap="round"/>
<line x1="291.4" y1="92" x2="293.2" y2="92" stroke="#47abb4" stroke-width="0.85" stroke-linecap="round"/>
<line x1="293.2" y1="92" x2="293.6" y2="70.8" stroke="#5cc8a0" stroke-width="0.85" stroke-linecap="round"/>
<line x1="293.6" y1="70.8" x2="294" y2="90" stroke="#5cc8a0" stroke-width="0.85" stroke-linecap="round"/>
<line x1="294" y1="90" x2="294.8" y2="78.2" stroke="#4fc095" stroke-width="0.85" stroke-linecap="round"/>
<line x1="294.8" y1="78.2" x2="295.1" y2="88" stroke="#4fc095" stroke-width="0.85" stroke-linecap="round"/>
<line x1="295.1" y1="88" x2="295.3" y2="81" stroke="#4fc095" stroke-width="0.85" stroke-linecap="round"/>
<line x1="295.3" y1="81" x2="295.6" y2="92" stroke="#4fc095" stroke-width="0.85" stroke-linecap="round"/>
<line x1="295.6" y1="92" x2="296.2" y2="89.5" stroke="#47abb4" stroke-width="0.85" stroke-linecap="round"/>
<line x1="296.2" y1="89.5" x2="296.6" y2="92" stroke="#47abb4" stroke-width="0.85" stroke-linecap="round"/>
<line x1="296.6" y1="92" x2="297.2" y2="102.8" stroke="#8fd5c5" stroke-width="0.85" stroke-linecap="round"/>
<line x1="297.2" y1="102.8" x2="297.5" y2="92" stroke="#5ab8b0" stroke-width="0.85" stroke-linecap="round"/>
<line x1="297.5" y1="92" x2="297.8" y2="101.3" stroke="#8fd5c5" stroke-width="0.85" stroke-linecap="round"/>
<line x1="297.8" y1="101.3" x2="298" y2="92" stroke="#8fd5c5" stroke-width="0.85" stroke-linecap="round"/>
<line x1="298" y1="92" x2="298.5" y2="75.3" stroke="#2aa8a0" stroke-width="0.85" stroke-linecap="round"/>
<line x1="298.5" y1="75.3" x2="298.9" y2="88" stroke="#2aa8a0" stroke-width="0.85" stroke-linecap="round"/>
<line x1="298.9" y1="88" x2="299.3" y2="78.7" stroke="#2aa8a0" stroke-width="0.85" stroke-linecap="round"/>
<line x1="299.3" y1="78.7" x2="299.7" y2="90" stroke="#2aa8a0" stroke-width="0.85" stroke-linecap="round"/>
<line x1="299.7" y1="90" x2="300.4" y2="82.1" stroke="#3cb08a" stroke-width="0.85" stroke-linecap="round"/>
<line x1="300.4" y1="82.1" x2="300.6" y2="97.8" stroke="#a8dcd0" stroke-width="0.85" stroke-linecap="round"/>
<line x1="300.6" y1="97.8" x2="300.8" y2="92" stroke="#a8dcd0" stroke-width="0.85" stroke-linecap="round"/>
<line x1="300.8" y1="92" x2="301" y2="101.9" stroke="#3cb44a" stroke-width="0.85" stroke-linecap="round"/>
<line x1="301" y1="101.9" x2="301.4" y2="93" stroke="#3cb44a" stroke-width="0.85" stroke-linecap="round"/>
<line x1="301.4" y1="93" x2="301.8" y2="118.2" stroke="#3cb44a" stroke-width="0.85" stroke-linecap="round"/>
<line x1="301.8" y1="118.2" x2="302.3" y2="93" stroke="#3cb44a" stroke-width="0.85" stroke-linecap="round"/>
<line x1="302.3" y1="93" x2="303" y2="106" stroke="#45b84a" stroke-width="0.85" stroke-linecap="round"/>
<line x1="303" y1="106" x2="303.5" y2="92" stroke="#45b84a" stroke-width="0.85" stroke-linecap="round"/>
<line x1="303.5" y1="92" x2="305" y2="92" stroke="#47abb4" stroke-width="0.85" stroke-linecap="round"/>
<line x1="305" y1="92" x2="307.3" y2="92" stroke="#47abb4" stroke-width="0.85" stroke-linecap="round"/>
<line x1="307.3" y1="92" x2="307.6" y2="75.9" stroke="#44bb66" stroke-width="0.85" stroke-linecap="round"/>
<line x1="307.6" y1="75.9" x2="307.9" y2="92" stroke="#44bb66" stroke-width="0.85" stroke-linecap="round"/>
<line x1="307.9" y1="92" x2="309" y2="92" stroke="#47abb4" stroke-width="0.85" stroke-linecap="round"/>
<line x1="309" y1="92" x2="309.6" y2="92" stroke="#47abb4" stroke-width="0.85" stroke-linecap="round"/>
<line x1="309.6" y1="92" x2="310" y2="98" stroke="#8fd5c5" stroke-width="0.85" stroke-linecap="round"/>
<line x1="310" y1="98" x2="310.4" y2="92" stroke="#8fd5c5" stroke-width="0.85" stroke-linecap="round"/>
<line x1="310.4" y1="92" x2="311.0" y2="92" stroke="#47abb4" stroke-width="0.85" stroke-linecap="round"/>
<line x1="311.0" y1="92" x2="311.4" y2="122.6" stroke="#55bb50" stroke-width="0.85" stroke-linecap="round"/>
<line x1="311.4" y1="122.6" x2="311.8" y2="93" stroke="#55bb50" stroke-width="0.85" stroke-linecap="round"/>
<line x1="311.8" y1="93" x2="312.4" y2="93" stroke="#47abb4" stroke-width="0.85" stroke-linecap="round"/>
<line x1="312.4" y1="93" x2="312.8" y2="119.6" stroke="#6cc24a" stroke-width="0.85" stroke-linecap="round"/>
<line x1="312.8" y1="119.6" x2="313.1" y2="92" stroke="#6cc24a" stroke-width="0.85" stroke-linecap="round"/>
<line x1="313.1" y1="92" x2="313.5" y2="90" stroke="#47abb4" stroke-width="0.85" stroke-linecap="round"/>
<line x1="313.5" y1="90" x2="314.2" y2="92" stroke="#47abb4" stroke-width="0.85" stroke-linecap="round"/>
<line x1="314.2" y1="92" x2="314.5" y2="43.8" stroke="#60cc9a" stroke-width="0.85" stroke-linecap="round"/>
<line x1="314.5" y1="43.8" x2="314.8" y2="92" stroke="#60cc9a" stroke-width="0.85" stroke-linecap="round"/>
<line x1="314.8" y1="92" x2="315.4" y2="92" stroke="#47abb4" stroke-width="0.85" stroke-linecap="round"/>
<line x1="315.4" y1="92" x2="315.7" y2="118.2" stroke="#90d8c8" stroke-width="0.85" stroke-linecap="round"/>
<line x1="315.7" y1="118.2" x2="316.1" y2="92" stroke="#90d8c8" stroke-width="0.85" stroke-linecap="round"/>
<line x1="316.1" y1="92" x2="318" y2="90.5" stroke="#c9cf3b" stroke-width="0.85" stroke-linecap="round"/>
<line x1="318" y1="90.5" x2="319" y2="89.5" stroke="#c9cf3b" stroke-width="0.85" stroke-linecap="round"/>
<line x1="319" y1="89.5" x2="320" y2="90.2" stroke="#c9cf3b" stroke-width="0.85" stroke-linecap="round"/>
<line x1="320" y1="90.2" x2="321.5" y2="88.3" stroke="#c9cf3b" stroke-width="0.85" stroke-linecap="round"/>
<line x1="321.5" y1="88.3" x2="322.5" y2="90.5" stroke="#c9cf3b" stroke-width="0.85" stroke-linecap="round"/>
<line x1="322.5" y1="90.5" x2="324" y2="91" stroke="#c9cf3b" stroke-width="0.85" stroke-linecap="round"/>
<line x1="324" y1="91" x2="326" y2="91.5" stroke="#c9cf3b" stroke-width="0.85" stroke-linecap="round"/>
<line x1="326" y1="91.5" x2="328" y2="92.3" stroke="#47abb4" stroke-width="0.85" stroke-linecap="round"/>
<line x1="328" y1="92.3" x2="331" y2="93.5" stroke="#47abb4" stroke-width="0.85" stroke-linecap="round"/>
<line x1="331" y1="93.5" x2="333" y2="94.6" stroke="#47abb4" stroke-width="0.85" stroke-linecap="round"/>
<line x1="333" y1="94.6" x2="335" y2="93" stroke="#47abb4" stroke-width="0.85" stroke-linecap="round"/>
<line x1="335" y1="93" x2="338" y2="92.5" stroke="#47abb4" stroke-width="0.85" stroke-linecap="round"/>
<line x1="338" y1="92.5" x2="341" y2="94" stroke="#47abb4" stroke-width="0.85" stroke-linecap="round"/>
<line x1="341" y1="94" x2="343" y2="96.2" stroke="#b8cf3c" stroke-width="0.85" stroke-linecap="round"/>
<line x1="343" y1="96.2" x2="345" y2="93.5" stroke="#b8cf3c" stroke-width="0.85" stroke-linecap="round"/>
<line x1="345" y1="93.5" x2="347" y2="92.5" stroke="#47abb4" stroke-width="0.85" stroke-linecap="round"/>
<line x1="347" y1="92.5" x2="349.5" y2="96.4" stroke="#47abb4" stroke-width="0.85" stroke-linecap="round"/>
<line x1="349.5" y1="96.4" x2="351" y2="93.5" stroke="#4ab0a8" stroke-width="0.85" stroke-linecap="round"/>
<line x1="351" y1="93.5" x2="354" y2="92.5" stroke="#47abb4" stroke-width="0.85" stroke-linecap="round"/>
<line x1="354" y1="92.5" x2="357" y2="93.5" stroke="#47abb4" stroke-width="0.85" stroke-linecap="round"/>
<line x1="357" y1="93.5" x2="358.5" y2="95.8" stroke="#6fc04a" stroke-width="0.85" stroke-linecap="round"/>
<line x1="358.5" y1="95.8" x2="361" y2="93.5" stroke="#6fc04a" stroke-width="0.85" stroke-linecap="round"/>
<line x1="361" y1="93.5" x2="363" y2="92" stroke="#47abb4" stroke-width="0.85" stroke-linecap="round"/>
<line x1="363" y1="92" x2="365" y2="88.3" stroke="#e0a83a" stroke-width="0.85" stroke-linecap="round"/>
<line x1="365" y1="88.3" x2="366" y2="91.5" stroke="#e0a83a" stroke-width="0.85" stroke-linecap="round"/>
<line x1="366" y1="91.5" x2="367" y2="92.5" stroke="#47abb4" stroke-width="0.85" stroke-linecap="round"/>
<line x1="367" y1="92.5" x2="369" y2="92.5" stroke="#47abb4" stroke-width="0.85" stroke-linecap="round"/>
<line x1="369" y1="92.5" x2="371" y2="91" stroke="#47abb4" stroke-width="0.85" stroke-linecap="round"/>
<line x1="371" y1="91" x2="372" y2="87.8" stroke="#3cb44a" stroke-width="0.85" stroke-linecap="round"/>
<line x1="372" y1="87.8" x2="373.5" y2="89.5" stroke="#3cb44a" stroke-width="0.85" stroke-linecap="round"/>
<line x1="373.5" y1="89.5" x2="375" y2="91.6" stroke="#3cb44a" stroke-width="0.85" stroke-linecap="round"/>
<line x1="375" y1="91.6" x2="376.5" y2="89.5" stroke="#2fa88a" stroke-width="0.85" stroke-linecap="round"/>
<line x1="376.5" y1="89.5" x2="377.5" y2="88.5" stroke="#2fa88a" stroke-width="0.85" stroke-linecap="round"/>
<line x1="377.5" y1="88.5" x2="378.5" y2="84.4" stroke="#2fa88a" stroke-width="0.85" stroke-linecap="round"/>
<line x1="378.5" y1="84.4" x2="379" y2="90" stroke="#2fa88a" stroke-width="0.85" stroke-linecap="round"/>
<line x1="379" y1="90" x2="380" y2="88.5" stroke="#2fa88a" stroke-width="0.85" stroke-linecap="round"/>
<line x1="380" y1="88.5" x2="381" y2="87" stroke="#2fa88a" stroke-width="0.85" stroke-linecap="round"/>
<line x1="381" y1="87" x2="382" y2="91" stroke="#2fa88a" stroke-width="0.85" stroke-linecap="round"/>
<line x1="382" y1="91" x2="383" y2="92.5" stroke="#2fa88a" stroke-width="0.85" stroke-linecap="round"/>
<line x1="383" y1="92.5" x2="384.5" y2="94.6" stroke="#5cbc5c" stroke-width="0.85" stroke-linecap="round"/>
<line x1="384.5" y1="94.6" x2="386" y2="92.5" stroke="#5cbc5c" stroke-width="0.85" stroke-linecap="round"/>
<line x1="386" y1="92.5" x2="387" y2="87.6" stroke="#9ecd3a" stroke-width="0.85" stroke-linecap="round"/>
<line x1="387" y1="87.6" x2="388.5" y2="91" stroke="#9ecd3a" stroke-width="0.85" stroke-linecap="round"/>
<line x1="388.5" y1="91" x2="389.5" y2="92.5" stroke="#9ecd3a" stroke-width="0.85" stroke-linecap="round"/>
<line x1="389.5" y1="92.5" x2="391" y2="94.5" stroke="#47abb4" stroke-width="0.85" stroke-linecap="round"/>
<line x1="391" y1="94.5" x2="392" y2="95" stroke="#47abb4" stroke-width="0.85" stroke-linecap="round"/>
<line x1="392" y1="95" x2="393.5" y2="92" stroke="#47abb4" stroke-width="0.85" stroke-linecap="round"/>
<line x1="393.5" y1="92" x2="395" y2="93" stroke="#47abb4" stroke-width="0.85" stroke-linecap="round"/>
<line x1="395" y1="93" x2="396.5" y2="90" stroke="#47abb4" stroke-width="0.85" stroke-linecap="round"/>
<line x1="396.5" y1="90" x2="398" y2="88.9" stroke="#47abb4" stroke-width="0.85" stroke-linecap="round"/>
<line x1="398" y1="88.9" x2="399.5" y2="92" stroke="#47abb4" stroke-width="0.85" stroke-linecap="round"/>
<line x1="399.5" y1="92" x2="401" y2="93.8" stroke="#6cc04a" stroke-width="0.85" stroke-linecap="round"/>
<line x1="401" y1="93.8" x2="402.5" y2="94.1" stroke="#6cc04a" stroke-width="0.85" stroke-linecap="round"/>
<line x1="402.5" y1="94.1" x2="404" y2="92" stroke="#6cc04a" stroke-width="0.85" stroke-linecap="round"/>
<line x1="404" y1="92" x2="406" y2="89.5" stroke="#47abb4" stroke-width="0.85" stroke-linecap="round"/>
<line x1="406" y1="89.5" x2="407.8" y2="88.7" stroke="#47abb4" stroke-width="0.85" stroke-linecap="round"/>
<line x1="407.8" y1="88.7" x2="409" y2="90.5" stroke="#47abb4" stroke-width="0.85" stroke-linecap="round"/>
<line x1="409" y1="90.5" x2="410.5" y2="92.2" stroke="#47abb4" stroke-width="0.85" stroke-linecap="round"/>
<line x1="410.5" y1="92.2" x2="413" y2="93" stroke="#47abb4" stroke-width="0.85" stroke-linecap="round"/>
<line x1="413" y1="93" x2="416" y2="93.5" stroke="#7cc453" stroke-width="0.85" stroke-linecap="round"/>
<line x1="416" y1="93.5" x2="419" y2="94.3" stroke="#7cc453" stroke-width="0.85" stroke-linecap="round"/>
<line x1="419" y1="94.3" x2="422" y2="94" stroke="#7cc453" stroke-width="0.85" stroke-linecap="round"/>
<line x1="422" y1="94" x2="424" y2="93" stroke="#7cc453" stroke-width="0.85" stroke-linecap="round"/>
<line x1="424" y1="93" x2="425.5" y2="92.6" stroke="#47abb4" stroke-width="0.85" stroke-linecap="round"/>
<line x1="425.5" y1="92.6" x2="427" y2="94.3" stroke="#47abb4" stroke-width="0.85" stroke-linecap="round"/>
<line x1="427" y1="94.3" x2="429" y2="93.5" stroke="#47abb4" stroke-width="0.85" stroke-linecap="round"/>
<line x1="429" y1="93.5" x2="431" y2="93" stroke="#47abb4" stroke-width="0.85" stroke-linecap="round"/>
<line x1="431" y1="93" x2="432.5" y2="95" stroke="#b7d13a" stroke-width="0.85" stroke-linecap="round"/>
<line x1="432.5" y1="95" x2="433.4" y2="105" stroke="#b7d13a" stroke-width="0.85" stroke-linecap="round"/>
<line x1="433.4" y1="105" x2="434.2" y2="124.5" stroke="#b7d13a" stroke-width="0.85" stroke-linecap="round"/>
<line x1="434.2" y1="124.5" x2="434.8" y2="105" stroke="#b7d13a" stroke-width="0.85" stroke-linecap="round"/>
<line x1="434.8" y1="105" x2="435.5" y2="95" stroke="#b7d13a" stroke-width="0.85" stroke-linecap="round"/>
<line x1="435.5" y1="95" x2="437" y2="93" stroke="#b7d13a" stroke-width="0.85" stroke-linecap="round"/>
<line x1="437" y1="93" x2="440" y2="93" stroke="#47abb4" stroke-width="0.85" stroke-linecap="round"/>
<line x1="440" y1="93" x2="442" y2="92.5" stroke="#47abb4" stroke-width="0.85" stroke-linecap="round"/>
<line x1="442" y1="92.5" x2="443.5" y2="91" stroke="#47abb4" stroke-width="0.85" stroke-linecap="round"/>
<line x1="443.5" y1="91" x2="444.3" y2="89" stroke="#3a86c0" stroke-width="0.85" stroke-linecap="round"/>
<line x1="444.3" y1="89" x2="445" y2="92" stroke="#3a86c0" stroke-width="0.85" stroke-linecap="round"/>
<line x1="445" y1="92" x2="445.6" y2="84" stroke="#3a86c0" stroke-width="0.85" stroke-linecap="round"/>
<line x1="445.6" y1="84" x2="446.1" y2="100" stroke="#3a86c0" stroke-width="0.85" stroke-linecap="round"/>
<line x1="446.1" y1="100" x2="446.5" y2="108.4" stroke="#3a86c0" stroke-width="0.85" stroke-linecap="round"/>
<line x1="446.5" y1="108.4" x2="447" y2="96" stroke="#3a86c0" stroke-width="0.85" stroke-linecap="round"/>
<line x1="447" y1="96" x2="448" y2="92" stroke="#3a86c0" stroke-width="0.85" stroke-linecap="round"/>
<line x1="448" y1="92" x2="449" y2="93.5" stroke="#47abb4" stroke-width="0.85" stroke-linecap="round"/>
<line x1="449" y1="93.5" x2="450" y2="92.2" stroke="#47abb4" stroke-width="0.85" stroke-linecap="round"/>
<line x1="450" y1="92.2" x2="455" y2="92.5" stroke="#47abb4" stroke-width="0.85" stroke-linecap="round"/>
<line x1="455" y1="92.5" x2="460" y2="93" stroke="#47abb4" stroke-width="0.85" stroke-linecap="round"/>
<line x1="460" y1="93" x2="462" y2="94" stroke="#6cc04a" stroke-width="0.85" stroke-linecap="round"/>
<line x1="462" y1="94" x2="463.3" y2="96.3" stroke="#6cc04a" stroke-width="0.85" stroke-linecap="round"/>
<line x1="463.3" y1="96.3" x2="464.2" y2="92" stroke="#6cc04a" stroke-width="0.85" stroke-linecap="round"/>
<line x1="464.2" y1="92" x2="465.2" y2="88.8" stroke="#3aa0b0" stroke-width="0.85" stroke-linecap="round"/>
<line x1="465.2" y1="88.8" x2="466" y2="92" stroke="#3aa0b0" stroke-width="0.85" stroke-linecap="round"/>
<line x1="466" y1="92" x2="467" y2="96.8" stroke="#3aa0b0" stroke-width="0.85" stroke-linecap="round"/>
<line x1="467" y1="96.8" x2="468" y2="93" stroke="#3aa0b0" stroke-width="0.85" stroke-linecap="round"/>
<line x1="468" y1="93" x2="470" y2="92" stroke="#47abb4" stroke-width="0.85" stroke-linecap="round"/>
<line x1="470" y1="92" x2="473" y2="91.7" stroke="#47abb4" stroke-width="0.85" stroke-linecap="round"/>
<line x1="473" y1="91.7" x2="476" y2="92" stroke="#47abb4" stroke-width="0.85" stroke-linecap="round"/>
<text x="299.50" y="73.80" font-size="4.8" textLength="13.60" lengthAdjust="spacingAndGlyphs" fill="#333">Scyllo-I</text>
<text x="283.80" y="109.30" font-size="4.8" textLength="9.80" lengthAdjust="spacingAndGlyphs" fill="#333">GSH</text>
<text x="299.40" y="122.60" font-size="4.8" textLength="6.40" lengthAdjust="spacingAndGlyphs" fill="#333">Tau</text>
<text x="308.90" y="126.30" font-size="4.8" textLength="6.40" lengthAdjust="spacingAndGlyphs" fill="#333">Tau</text>
<text x="353.00" y="101.40" font-size="4.8" textLength="9.90" lengthAdjust="spacingAndGlyphs" fill="#333">GSH</text>
<text x="363.30" y="85.20" font-size="4.8" textLength="5.90" lengthAdjust="spacingAndGlyphs" fill="#333">Gln</text>
<text x="426.00" y="121.70" font-size="4.8" textLength="5.80" lengthAdjust="spacingAndGlyphs" fill="#333">Ala</text>
<rect x="45.00" y="205.40" width="24.60" height="41.30" fill="#a5002d"/>
<line x1="57.30" y1="203.40" x2="57.30" y2="205.90" stroke="#a5002d" stroke-width="0.9"/>
<line x1="51.40" y1="203.40" x2="63.40" y2="203.40" stroke="#a5002d" stroke-width="0.9"/>
<rect x="80.10" y="219.20" width="24.90" height="27.50" fill="#2c4a80"/>
<line x1="92.55" y1="218.00" x2="92.55" y2="219.70" stroke="#2c4a80" stroke-width="0.9"/>
<line x1="86.50" y1="218.00" x2="98.30" y2="218.00" stroke="#2c4a80" stroke-width="0.9"/>
<line x1="39.40" y1="196.90" x2="39.40" y2="247.20" stroke="#111" stroke-width="1.0"/>
<line x1="38.90" y1="246.70" x2="109.80" y2="246.70" stroke="#333" stroke-width="1.1"/>
<line x1="36.10" y1="246.70" x2="39.40" y2="246.70" stroke="#111" stroke-width="0.9"/>
<text x="33.60" y="248.30" font-size="4.6" text-anchor="end" fill="#4a4a4a">0</text>
<line x1="36.10" y1="237.32" x2="39.40" y2="237.32" stroke="#111" stroke-width="0.9"/>
<text x="33.60" y="238.92" font-size="4.6" text-anchor="end" fill="#4a4a4a">100</text>
<line x1="36.10" y1="227.94" x2="39.40" y2="227.94" stroke="#111" stroke-width="0.9"/>
<text x="33.60" y="229.54" font-size="4.6" text-anchor="end" fill="#4a4a4a">200</text>
<line x1="36.10" y1="218.56" x2="39.40" y2="218.56" stroke="#111" stroke-width="0.9"/>
<text x="33.60" y="220.16" font-size="4.6" text-anchor="end" fill="#4a4a4a">300</text>
<line x1="36.10" y1="209.18" x2="39.40" y2="209.18" stroke="#111" stroke-width="0.9"/>
<text x="33.60" y="210.78" font-size="4.6" text-anchor="end" fill="#4a4a4a">400</text>
<line x1="36.10" y1="199.80" x2="39.40" y2="199.80" stroke="#111" stroke-width="0.9"/>
<text x="33.60" y="201.40" font-size="4.6" text-anchor="end" fill="#4a4a4a">500</text>
<line x1="57.30" y1="246.70" x2="57.30" y2="250.50" stroke="#333" stroke-width="0.9"/>
<line x1="92.55" y1="246.70" x2="92.55" y2="250.50" stroke="#333" stroke-width="0.9"/>
<text x="57.30" y="257.10" font-size="4.6" text-anchor="middle" textLength="31.00" lengthAdjust="spacingAndGlyphs" fill="#3c3c3c">Chemosensitivity</text>
<text x="92.55" y="257.10" font-size="4.6" text-anchor="middle" textLength="31.60" lengthAdjust="spacingAndGlyphs" fill="#3c3c3c">Chemoresistance</text>
<line x1="57.30" y1="201.40" x2="92.60" y2="201.40" stroke="#333" stroke-width="1.0"/>
<text x="74.95" y="201.05" font-size="3.4" text-anchor="middle" fill="#555">**</text>
<text x="52.00" y="190.40" font-size="7.3" textLength="45.60" lengthAdjust="spacingAndGlyphs" fill="#3a3a3a">Glutamine levels</text>
<text x="20.30" y="221.40" font-size="5.0" text-anchor="middle" textLength="47.00" lengthAdjust="spacingAndGlyphs" font-weight="bold" transform="rotate(-90 20.30 221.40)" fill="#222">Relative amplitude (a.u)</text>
<rect x="143.00" y="204.20" width="25.00" height="42.50" fill="#a5002d"/>
<line x1="155.50" y1="202.10" x2="155.50" y2="204.70" stroke="#a5002d" stroke-width="0.9"/>
<line x1="149.50" y1="202.10" x2="162.00" y2="202.10" stroke="#a5002d" stroke-width="0.9"/>
<rect x="180.00" y="212.40" width="24.90" height="34.30" fill="#2c4a80"/>
<line x1="192.45" y1="208.90" x2="192.45" y2="212.90" stroke="#2c4a80" stroke-width="0.9"/>
<line x1="186.20" y1="208.90" x2="198.50" y2="208.90" stroke="#2c4a80" stroke-width="0.9"/>
<line x1="137.20" y1="194.90" x2="137.20" y2="247.20" stroke="#111" stroke-width="1.0"/>
<line x1="136.70" y1="246.70" x2="207.60" y2="246.70" stroke="#333" stroke-width="1.1"/>
<line x1="133.90" y1="246.70" x2="137.20" y2="246.70" stroke="#111" stroke-width="0.9"/>
<text x="130.60" y="248.30" font-size="4.6" text-anchor="end" fill="#4a4a4a">0</text>
<line x1="133.90" y1="234.45" x2="137.20" y2="234.45" stroke="#111" stroke-width="0.9"/>
<text x="130.60" y="236.05" font-size="4.6" text-anchor="end" fill="#4a4a4a">200</text>
<line x1="133.90" y1="222.20" x2="137.20" y2="222.20" stroke="#111" stroke-width="0.9"/>
<text x="130.60" y="223.80" font-size="4.6" text-anchor="end" fill="#4a4a4a">400</text>
<line x1="133.90" y1="209.95" x2="137.20" y2="209.95" stroke="#111" stroke-width="0.9"/>
<text x="130.60" y="211.55" font-size="4.6" text-anchor="end" fill="#4a4a4a">600</text>
<line x1="133.90" y1="197.70" x2="137.20" y2="197.70" stroke="#111" stroke-width="0.9"/>
<text x="130.60" y="199.30" font-size="4.6" text-anchor="end" fill="#4a4a4a">800</text>
<line x1="155.50" y1="246.70" x2="155.50" y2="250.50" stroke="#333" stroke-width="0.9"/>
<line x1="192.45" y1="246.70" x2="192.45" y2="250.50" stroke="#333" stroke-width="0.9"/>
<text x="155.50" y="257.10" font-size="4.6" text-anchor="middle" textLength="31.00" lengthAdjust="spacingAndGlyphs" fill="#3c3c3c">Chemosensitivity</text>
<text x="192.45" y="257.10" font-size="4.6" text-anchor="middle" textLength="31.60" lengthAdjust="spacingAndGlyphs" fill="#3c3c3c">Chemoresistance</text>
<line x1="155.30" y1="199.20" x2="191.90" y2="199.20" stroke="#333" stroke-width="1.0"/>
<text x="165.1" y="197.6" font-size="4.3" fill="#444" textLength="16.9" lengthAdjust="spacingAndGlyphs"><tspan font-style="italic">p</tspan> = 0.05</text>
<text x="146.90" y="190.40" font-size="7.3" textLength="52.90" lengthAdjust="spacingAndGlyphs" fill="#3a3a3a">Scylloinositol levels</text>
<text x="118.50" y="221.40" font-size="5.0" text-anchor="middle" textLength="47.00" lengthAdjust="spacingAndGlyphs" font-weight="bold" transform="rotate(-90 118.50 221.40)" fill="#222">Relative amplitude (a.u)</text>
<rect x="245.10" y="218.90" width="24.80" height="27.80" fill="#a5002d"/>
<line x1="257.50" y1="218.00" x2="257.50" y2="219.40" stroke="#a5002d" stroke-width="0.9"/>
<line x1="252.00" y1="218.00" x2="263.40" y2="218.00" stroke="#a5002d" stroke-width="0.9"/>
<rect x="281.00" y="211.50" width="25.00" height="35.20" fill="#2c4a80"/>
<line x1="293.50" y1="208.20" x2="293.50" y2="212.00" stroke="#2c4a80" stroke-width="0.9"/>
<line x1="287.20" y1="208.20" x2="299.30" y2="208.20" stroke="#2c4a80" stroke-width="0.9"/>
<line x1="239.20" y1="196.40" x2="239.20" y2="247.20" stroke="#111" stroke-width="1.0"/>
<line x1="238.70" y1="246.70" x2="310.90" y2="246.70" stroke="#333" stroke-width="1.1"/>
<line x1="235.90" y1="246.70" x2="239.20" y2="246.70" stroke="#111" stroke-width="0.9"/>
<text x="233.40" y="248.30" font-size="4.6" text-anchor="end" fill="#4a4a4a">0</text>
<line x1="235.90" y1="230.95" x2="239.20" y2="230.95" stroke="#111" stroke-width="0.9"/>
<text x="233.40" y="232.55" font-size="4.6" text-anchor="end" fill="#4a4a4a">1000</text>
<line x1="235.90" y1="215.20" x2="239.20" y2="215.20" stroke="#111" stroke-width="0.9"/>
<text x="233.40" y="216.80" font-size="4.6" text-anchor="end" fill="#4a4a4a">2000</text>
<line x1="235.90" y1="199.45" x2="239.20" y2="199.45" stroke="#111" stroke-width="0.9"/>
<text x="233.40" y="201.05" font-size="4.6" text-anchor="end" fill="#4a4a4a">3000</text>
<line x1="257.50" y1="246.70" x2="257.50" y2="250.50" stroke="#333" stroke-width="0.9"/>
<line x1="293.50" y1="246.70" x2="293.50" y2="250.50" stroke="#333" stroke-width="0.9"/>
<text x="257.50" y="257.10" font-size="4.6" text-anchor="middle" textLength="31.00" lengthAdjust="spacingAndGlyphs" fill="#3c3c3c">Chemosensitivity</text>
<text x="293.50" y="257.10" font-size="4.6" text-anchor="middle" textLength="31.60" lengthAdjust="spacingAndGlyphs" fill="#3c3c3c">Chemoresistance</text>
<line x1="257.80" y1="203.30" x2="293.50" y2="203.30" stroke="#333" stroke-width="1.0"/>
<text x="275.65" y="202.95" font-size="3.4" text-anchor="middle" fill="#555">**</text>
<text x="256.30" y="190.40" font-size="7.3" textLength="37.70" lengthAdjust="spacingAndGlyphs" fill="#3a3a3a">Alanine levels</text>
<text x="218.30" y="221.40" font-size="5.0" text-anchor="middle" textLength="47.00" lengthAdjust="spacingAndGlyphs" font-weight="bold" transform="rotate(-90 218.30 221.40)" fill="#222">Relative amplitude (a.u)</text>
<rect x="346.10" y="209.50" width="24.90" height="37.20" fill="#a5002d"/>
<line x1="358.55" y1="208.60" x2="358.55" y2="210.00" stroke="#a5002d" stroke-width="0.9"/>
<line x1="352.20" y1="208.60" x2="364.20" y2="208.60" stroke="#a5002d" stroke-width="0.9"/>
<rect x="382.00" y="204.40" width="24.90" height="42.30" fill="#2c4a80"/>
<line x1="394.45" y1="203.30" x2="394.45" y2="204.90" stroke="#2c4a80" stroke-width="0.9"/>
<line x1="388.60" y1="203.30" x2="400.60" y2="203.30" stroke="#2c4a80" stroke-width="0.9"/>
<line x1="340.20" y1="196.20" x2="340.20" y2="247.20" stroke="#111" stroke-width="1.0"/>
<line x1="339.70" y1="246.70" x2="411.70" y2="246.70" stroke="#333" stroke-width="1.1"/>
<line x1="336.90" y1="246.70" x2="340.20" y2="246.70" stroke="#111" stroke-width="0.9"/>
<text x="334.50" y="248.30" font-size="4.6" text-anchor="end" fill="#4a4a4a">0</text>
<line x1="336.90" y1="230.85" x2="340.20" y2="230.85" stroke="#111" stroke-width="0.9"/>
<text x="334.50" y="232.45" font-size="4.6" text-anchor="end" fill="#4a4a4a">500</text>
<line x1="336.90" y1="215.00" x2="340.20" y2="215.00" stroke="#111" stroke-width="0.9"/>
<text x="334.50" y="216.60" font-size="4.6" text-anchor="end" fill="#4a4a4a">1000</text>
<line x1="336.90" y1="199.15" x2="340.20" y2="199.15" stroke="#111" stroke-width="0.9"/>
<text x="334.50" y="200.75" font-size="4.6" text-anchor="end" fill="#4a4a4a">1500</text>
<line x1="358.55" y1="246.70" x2="358.55" y2="250.50" stroke="#333" stroke-width="0.9"/>
<line x1="394.45" y1="246.70" x2="394.45" y2="250.50" stroke="#333" stroke-width="0.9"/>
<text x="358.55" y="257.10" font-size="4.6" text-anchor="middle" textLength="31.00" lengthAdjust="spacingAndGlyphs" fill="#3c3c3c">Chemosensitivity</text>
<text x="394.45" y="257.10" font-size="4.6" text-anchor="middle" textLength="31.60" lengthAdjust="spacingAndGlyphs" fill="#3c3c3c">Chemoresistance</text>
<line x1="358.90" y1="200.60" x2="394.60" y2="200.60" stroke="#333" stroke-width="1.0"/>
<text x="376.75" y="200.25" font-size="3.4" text-anchor="middle" fill="#555">*</text>
<text x="351.80" y="190.40" font-size="7.3" textLength="49.30" lengthAdjust="spacingAndGlyphs" fill="#3a3a3a">Glutathione levels</text>
<text x="319.80" y="221.40" font-size="5.0" text-anchor="middle" textLength="47.00" lengthAdjust="spacingAndGlyphs" font-weight="bold" transform="rotate(-90 319.80 221.40)" fill="#222">Relative amplitude (a.u)</text>
<rect x="447.00" y="215.00" width="24.90" height="31.70" fill="#a5002d"/>
<line x1="459.45" y1="213.90" x2="459.45" y2="215.50" stroke="#a5002d" stroke-width="0.9"/>
<line x1="453.30" y1="213.90" x2="465.40" y2="213.90" stroke="#a5002d" stroke-width="0.9"/>
<rect x="482.80" y="209.20" width="24.10" height="37.50" fill="#2c4a80"/>
<line x1="494.85" y1="207.40" x2="494.85" y2="209.70" stroke="#2c4a80" stroke-width="0.9"/>
<line x1="488.70" y1="207.40" x2="500.80" y2="207.40" stroke="#2c4a80" stroke-width="0.9"/>
<line x1="441.20" y1="196.70" x2="441.20" y2="247.20" stroke="#111" stroke-width="1.0"/>
<line x1="440.70" y1="246.70" x2="512.90" y2="246.70" stroke="#333" stroke-width="1.1"/>
<line x1="437.90" y1="246.70" x2="441.20" y2="246.70" stroke="#111" stroke-width="0.9"/>
<text x="435.70" y="248.30" font-size="4.6" text-anchor="end" fill="#4a4a4a">0</text>
<line x1="437.90" y1="234.90" x2="441.20" y2="234.90" stroke="#111" stroke-width="0.9"/>
<text x="435.70" y="236.50" font-size="4.6" text-anchor="end" fill="#4a4a4a">1000</text>
<line x1="437.90" y1="223.10" x2="441.20" y2="223.10" stroke="#111" stroke-width="0.9"/>
<text x="435.70" y="224.70" font-size="4.6" text-anchor="end" fill="#4a4a4a">2000</text>
<line x1="437.90" y1="211.30" x2="441.20" y2="211.30" stroke="#111" stroke-width="0.9"/>
<text x="435.70" y="212.90" font-size="4.6" text-anchor="end" fill="#4a4a4a">3000</text>
<line x1="437.90" y1="199.50" x2="441.20" y2="199.50" stroke="#111" stroke-width="0.9"/>
<text x="435.70" y="201.10" font-size="4.6" text-anchor="end" fill="#4a4a4a">4000</text>
<line x1="459.45" y1="246.70" x2="459.45" y2="250.50" stroke="#333" stroke-width="0.9"/>
<line x1="494.85" y1="246.70" x2="494.85" y2="250.50" stroke="#333" stroke-width="0.9"/>
<text x="459.45" y="257.10" font-size="4.6" text-anchor="middle" textLength="31.00" lengthAdjust="spacingAndGlyphs" fill="#3c3c3c">Chemosensitivity</text>
<text x="494.85" y="257.10" font-size="4.6" text-anchor="middle" textLength="31.60" lengthAdjust="spacingAndGlyphs" fill="#3c3c3c">Chemoresistance</text>
<line x1="459.30" y1="203.30" x2="495.50" y2="203.30" stroke="#333" stroke-width="1.0"/>
<text x="477.40" y="202.95" font-size="3.4" text-anchor="middle" fill="#555">*</text>
<text x="459.30" y="190.40" font-size="7.3" textLength="36.20" lengthAdjust="spacingAndGlyphs" fill="#3a3a3a">Taurine levels</text>
<text x="420.10" y="221.40" font-size="5.0" text-anchor="middle" textLength="47.00" lengthAdjust="spacingAndGlyphs" font-weight="bold" transform="rotate(-90 420.10 221.40)" fill="#222">Relative amplitude (a.u)</text>
</svg>
</body></html>
